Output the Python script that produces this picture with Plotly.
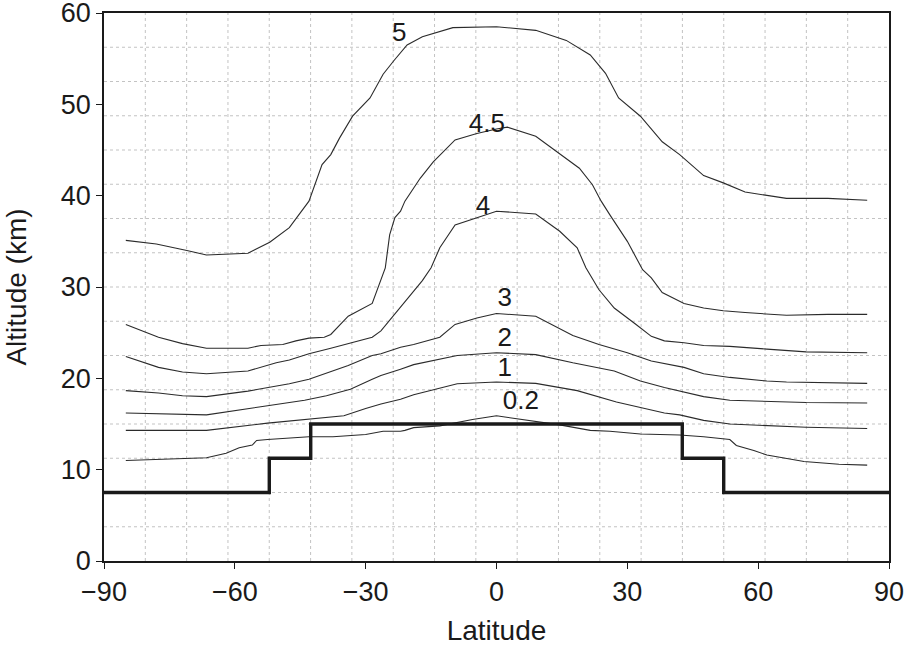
import plotly.graph_objects as go

# contour levels and their profiles (latitude, altitude km)
lat_5 = [-85, -78, -71, -66.5, -57, -52, -47.5, -43, -40, -38, -36, -33, -29, -26, -23.5, -20.5,
         -17, -10, 0, 9, 16, 21.5, 25, 28, 33, 38, 42, 47.5, 52, 57, 66.5, 76, 85]
alt_5 = [35.1, 34.7, 34.0, 33.5, 33.7, 34.9, 36.5, 39.4, 43.4, 44.5, 46.3, 48.7, 50.7, 53.3, 54.8, 56.5,
         57.4, 58.4, 58.5, 58.1, 57.0, 55.4, 53.4, 50.7, 48.7, 45.9, 44.5, 42.2, 41.4, 40.4, 39.7, 39.7, 39.5]

lat_45 = [-85, -77.5, -72, -66.5, -57, -54, -49, -46, -43, -39.5, -38, -34, -28.5, -25.5, -24.5, -23.3,
          -22, -21, -17.5, -14.5, -9.5, -4.5, 0, 2.5, 9, 14, 19, 22, 24, 26, 30, 33.5, 35.5, 38, 43,
          47.5, 52, 57, 66.5, 76, 85]
alt_45 = [25.9, 24.5, 23.8, 23.3, 23.3, 23.6, 23.7, 24.1, 24.4, 24.5, 24.8, 26.8, 28.2, 32.1, 35.7, 37.6,
          38.3, 39.4, 41.9, 43.7, 46.1, 46.8, 47.3, 47.5, 46.5, 44.8, 43.0, 41.2, 39.4, 37.9, 35.0, 31.9,
          31.0, 29.4, 28.2, 27.7, 27.4, 27.2, 26.9, 27.0, 27.0]

lat_4 = [-85, -77.5, -72, -66.5, -57, -50.5, -47.5, -43, -38, -34, -28.5, -26.5, -22, -17, -15, -13,
         -9.5, -4, 0, 9, 14.5, 18.5, 20.5, 23.5, 27, 32, 35.5, 38.5, 43, 47.5, 53.5, 62, 71, 85]
alt_4 = [22.4, 21.2, 20.7, 20.5, 20.8, 21.7, 22.0, 22.7, 23.3, 23.8, 24.5, 25.2, 27.8, 30.7, 32.1, 34.3,
         36.8, 37.7, 38.3, 38.0, 36.1, 34.3, 32.1, 29.7, 27.7, 25.9, 24.6, 24.1, 23.9, 23.6, 23.5, 23.2,
         22.9, 22.8]

lat_3 = [-85, -77.5, -72, -66.5, -57, -47.5, -43, -38, -34, -28.5, -26.5, -22, -19, -13, -9.5, -4.5,
         0, 9, 17.5, 23.5, 30, 35.5, 38.5, 43, 47.5, 53.5, 62, 66.5, 85]
alt_3 = [18.65, 18.4, 18.1, 18.0, 18.6, 19.4, 19.9, 20.7, 21.4, 22.5, 22.7, 23.4, 23.7, 24.5, 25.9, 26.6,
         27.1, 26.8, 24.7, 23.7, 22.8, 21.9, 21.6, 21.2, 20.5, 20.1, 19.7, 19.6, 19.45]

lat_2 = [-85, -77.5, -66.5, -52.5, -44, -39, -33.5, -28.5, -26.5, -22, -19, -9, 0, 9, 17.5, 27, 33,
         38.5, 43, 47.5, 53.5, 62, 71, 85]
alt_2 = [16.2, 16.1, 16.0, 17.0, 17.6, 18.1, 18.8, 19.9, 20.3, 21.0, 21.5, 22.5, 22.8, 22.6, 21.7, 20.8,
         19.7, 19.0, 18.5, 18.0, 17.6, 17.5, 17.35, 17.3]

lat_1 = [-85, -66.5, -52.5, -43, -35, -30, -26.5, -22, -19, -9, 0, 9, 18.5, 27.5, 35, 38.5, 42, 47.5,
         53.5, 62, 71, 85]
alt_1 = [14.3, 14.3, 15.1, 15.5, 15.9, 16.7, 17.2, 17.7, 18.2, 19.4, 19.6, 19.45, 18.65, 17.4, 16.6,
         16.2, 16.0, 15.4, 15.0, 14.8, 14.65, 14.5]

lat_02 = [-85, -66.5, -62, -59, -56, -55, -52.5, -43, -37.5, -30, -26, -22, -21, -19, -13, -5.5, 0,
          4.5, 9, 14.5, 21.5, 26, 33, 42, 47.5, 53.5, 55, 59, 62, 70.5, 78.5, 85]
alt_02 = [11.0, 11.3, 11.8, 12.4, 12.7, 13.2, 13.3, 13.6, 13.6, 13.85, 14.2, 14.2, 14.3, 14.6, 14.8,
          15.5, 15.9, 15.6, 15.3, 14.9, 14.3, 14.2, 13.9, 13.8, 13.6, 13.3, 12.65, 12.1, 11.6, 10.9,
          10.6, 10.5]

# tropopause step
trop_lat = [-90, -52.1, -42.6, 42.6, 52.1, 90]
trop_alt = [7.5, 11.25, 15, 11.25, 7.5, 7.5]

# label text and position
level_names = ["5", "4.5", "4", "3", "2", "1", "0.2"]
label_lat = [-22.3, -2.2, -3.1, 1.9, 1.9, 1.9, 5.6]
label_alt = [57.6, 47.7, 38.7, 28.6, 24.3, 21.0, 17.4]

x_ticks = [-90, -60, -30, 0, 30, 60, 90]
y_ticks = [0, 10, 20, 30, 40, 50, 60]

FONT = "Liberation Sans, Arial, Helvetica, sans-serif"
INK = "#1a1a1a"

fig = go.Figure()

curves = [(lat_5, alt_5), (lat_45, alt_45), (lat_4, alt_4), (lat_3, alt_3),
          (lat_2, alt_2), (lat_1, alt_1), (lat_02, alt_02)]
for (xs, ys), name in zip(curves, level_names):
    fig.add_trace(go.Scatter(x=xs, y=ys, mode="lines", name=name,
                             line=dict(color="#2b2b2b", width=1.1), showlegend=False))

fig.add_trace(go.Scatter(x=trop_lat, y=trop_alt, mode="lines", line=dict(color=INK, width=3.4, shape="hv"),
                         showlegend=False, cliponaxis=False))

fig.add_trace(go.Scatter(x=label_lat, y=label_alt, mode="text", text=level_names,
                         textfont=dict(family=FONT, size=26, color=INK), showlegend=False))

# dotted background grid (19 x 16 cells)
grid_style = dict(color="#bcbcbc", width=0.9, dash="dot")
for k in range(1, 19):
    gx = -90 + k * 180 / 19
    fig.add_shape(type="line", x0=gx, x1=gx, y0=0, y1=60, line=grid_style, layer="below")
for k in range(1, 16):
    gy = k * 3.75
    fig.add_shape(type="line", x0=-90, x1=90, y0=gy, y1=gy, line=grid_style, layer="below")

axis_common = dict(showgrid=False, zeroline=False, showline=True, linecolor=INK, linewidth=1.5,
                   mirror=True, ticks="outside", ticklen=6, tickwidth=1.2, tickcolor=INK,
                   automargin=False, ticklabeloverflow="allow",
                   tickfont=dict(family=FONT, size=27, color=INK))

fig.update_xaxes(range=[-90, 90], tickvals=x_ticks, **axis_common,
                 title=dict(text="Latitude", font=dict(family=FONT, size=28, color=INK), standoff=19))
fig.update_yaxes(range=[0, 60], tickvals=y_ticks, **axis_common,
                 title=dict(text="Altitude (km)", font=dict(family=FONT, size=28, color=INK), standoff=26))

fig.update_layout(
    width=905,
    height=646,
    margin=dict(l=104, r=16, t=13, b=85),
    plot_bgcolor="white",
    paper_bgcolor="white",
)

# the page's default body margin would shift the figure, so drop it
fig.write_html("out.html", config={"displayModeBar": False},
               post_script="document.body.style.margin = '0';")
